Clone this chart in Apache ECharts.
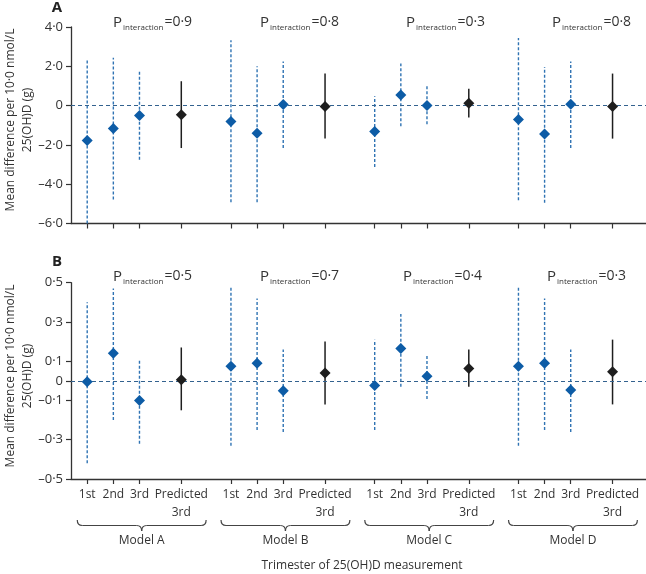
<!DOCTYPE html>
<html><head><meta charset="utf-8">
<script src="https://cdn.jsdelivr.net/npm/echarts@6/dist/echarts.min.js"></script>
<style>html,body{margin:0;padding:0;background:#fff}#c{width:646px;height:574px}</style>
</head><body><div id="c"></div>
<script>
// ---- data ----
const models = ['Model A', 'Model B', 'Model C', 'Model D'];
const trimesters = ['1st', '2nd', '3rd', 'Predicted\n3rd'];
const pInteractionA = ['0·9', '0·8', '0·3', '0·8'];
const pInteractionB = ['0·5', '0·7', '0·4', '0·3'];
// Panel A (per model: 1st, 2nd, 3rd, predicted 3rd)
const estA_ModelA = [-1.78, -1.17, -0.51, -0.46];
const estA_ModelB = [-0.81, -1.41, 0.05, -0.04];
const estA_ModelC = [-1.32, 0.54, 0.00, 0.12];
const estA_ModelD = [-0.71, -1.44, 0.07, -0.04];
const lowA_ModelA = [-6.0, -4.78, -2.75, -2.16];
const lowA_ModelB = [-4.92, -4.92, -2.16, -1.68];
const lowA_ModelC = [-3.12, -1.05, -0.95, -0.61];
const lowA_ModelD = [-4.82, -4.95, -2.16, -1.68];
const highA_ModelA = [2.39, 2.44, 1.80, 1.24];
const highA_ModelB = [3.32, 2.00, 2.25, 1.63];
const highA_ModelC = [0.47, 2.14, 1.00, 0.86];
const highA_ModelD = [3.44, 1.96, 2.25, 1.63];
// Panel B
const estB_ModelA = [-0.005, 0.14, -0.10, 0.005];
const estB_ModelB = [0.075, 0.09, -0.05, 0.04];
const estB_ModelC = [-0.024, 0.165, 0.024, 0.063];
const estB_ModelD = [0.075, 0.09, -0.047, 0.046];
const lowB_ModelA = [-0.42, -0.20, -0.32, -0.15];
const lowB_ModelB = [-0.33, -0.25, -0.26, -0.12];
const lowB_ModelC = [-0.25, -0.03, -0.093, -0.03];
const lowB_ModelD = [-0.33, -0.25, -0.26, -0.12];
const highB_ModelA = [0.40, 0.47, 0.11, 0.17];
const highB_ModelB = [0.48, 0.42, 0.16, 0.20];
const highB_ModelC = [0.21, 0.34, 0.13, 0.16];
const highB_ModelD = [0.48, 0.42, 0.16, 0.21];
const yTicksA = [-6, -4, -2, 0, 2, 4];
const yTicksB = [-0.5, -0.3, -0.1, 0, 0.1, 0.3, 0.5];

// ---- layout (not data) ----
const slotOffsets = [0, 1, 2, 3.6];
const modelStep = 5.5;
const FONT = 'Open Sans';
const BLUE = '#0d5ca6', BLUE_LINE = '#2f73b3', BLACK = '#1e1e1e', AXIS = '#333';

const estA = [estA_ModelA, estA_ModelB, estA_ModelC, estA_ModelD];
const lowA = [lowA_ModelA, lowA_ModelB, lowA_ModelC, lowA_ModelD];
const highA = [highA_ModelA, highA_ModelB, highA_ModelC, highA_ModelD];
const estB = [estB_ModelA, estB_ModelB, estB_ModelC, estB_ModelD];
const lowB = [lowB_ModelA, lowB_ModelB, lowB_ModelC, lowB_ModelD];
const highB = [highB_ModelA, highB_ModelB, highB_ModelC, highB_ModelD];

const xPos = (m, k) => m * modelStep + slotOffsets[k];
const allX = [];
models.forEach((_, m) => trimesters.forEach((_, k) => allX.push(xPos(m, k))));

function fmtNum(v, dec) {
  if (Math.abs(v) < 1e-9) return '0';
  return (v < 0 ? '\u2013' : '') + Math.abs(v).toFixed(dec).replace('.', '\u00b7');
}
function xLabel(v) {
  for (let m = 0; m < models.length; m++)
    for (let k = 0; k < trimesters.length; k++)
      if (Math.abs(xPos(m, k) - v) < 0.01) return trimesters[k];
  return '';
}

function buildSeries(est, low, high, idx) {
  const blueP = [], blackP = [], blueW = [], blackW = [];
  models.forEach((_, m) => trimesters.forEach((_, k) => {
    const x = xPos(m, k);
    if (k < 3) { blueP.push([x, est[m][k]]); blueW.push([x, low[m][k], high[m][k]]); }
    else { blackP.push([x, est[m][k]]); blackW.push([x, low[m][k], high[m][k]]); }
  }));
  const whisker = (color, dash, width) => (params, api) => {
    const p1 = api.coord([api.value(0), api.value(1)]);
    const p2 = api.coord([api.value(0), api.value(2)]);
    return { type: 'line', shape: { x1: p1[0], y1: p1[1], x2: p2[0], y2: p2[1] },
      style: { stroke: color, lineWidth: width, lineDash: dash } };
  };
  return [
    { type: 'line', xAxisIndex: idx, yAxisIndex: idx, data: [], silent: true,
      markLine: { silent: true, symbol: 'none', label: { show: false },
        lineStyle: { color: '#33628f', type: [4, 3], width: 1 }, data: [{ yAxis: 0 }] } },
    { type: 'custom', xAxisIndex: idx, yAxisIndex: idx, data: blueW, encode: { x: 0, y: [1, 2] },
      renderItem: whisker(BLUE_LINE, [3, 2], 1.4), z: 2 },
    { type: 'custom', xAxisIndex: idx, yAxisIndex: idx, data: blackW, encode: { x: 0, y: [1, 2] },
      renderItem: whisker(BLACK, null, 1.5), z: 2 },
    { type: 'scatter', xAxisIndex: idx, yAxisIndex: idx, data: blueP, symbol: 'diamond',
      symbolSize: 11, itemStyle: { color: BLUE, opacity: 1 }, z: 5 },
    { type: 'scatter', xAxisIndex: idx, yAxisIndex: idx, data: blackP, symbol: 'diamond',
      symbolSize: 11, itemStyle: { color: BLACK, opacity: 1 }, z: 5 }
  ];
}

const xAxisBase = (idx, showLabels) => ({
  type: 'value', gridIndex: idx, min: -0.62, max: 21.38,
  axisLine: { show: true, onZero: false, lineStyle: { color: AXIS, width: 1.3 } },
  axisTick: { show: true, length: 5, customValues: allX, lineStyle: { color: AXIS, width: 1.2 } },
  axisLabel: { show: showLabels, customValues: allX, formatter: xLabel, margin: 7,
    fontFamily: FONT, fontSize: 12, color: '#333', lineHeight: 18, align: 'center', verticalAlign: 'top' },
  splitLine: { show: false }
});
const yAxisBase = (idx, min, max, interval, ticks, dec) => ({
  type: 'value', gridIndex: idx, min: min, max: max, interval: interval,
  axisLine: { show: true, onZero: false, lineStyle: { color: AXIS, width: 1.3 } },
  axisTick: { show: true, length: 5, customValues: ticks, lineStyle: { color: AXIS, width: 1.2 } },
  axisLabel: { customValues: ticks, formatter: v => fmtNum(v, dec), margin: 8,
    fontFamily: FONT, fontSize: 13, color: '#333' },
  splitLine: { show: false }
});

const chart = echarts.init(document.getElementById('c'), null, { renderer: 'canvas' });

function pLabel(x, y, val) {
  return { type: 'text', x: x, y: y, style: {
    text: '{p|P}{s|interaction}{e|=' + val + '}', fontFamily: FONT,
    textVerticalAlign: 'middle', fill: '#333',
    rich: {
      p: { fontSize: 15, fontFamily: FONT, fill: '#333', lineHeight: 18, verticalAlign: 'top' },
      s: { fontSize: 8, fontFamily: FONT, fill: '#333', lineHeight: 10, padding: [9, 1, 0, 1], verticalAlign: 'top' },
      e: { fontSize: 14, fontFamily: FONT, fill: '#333', lineHeight: 18, verticalAlign: 'top' }
    } } };
}

const yName = 'Mean difference per 10\u00b70 nmol/L\n25(OH)D (g)';
const graphics = [
  { type: 'text', x: 57, y: 8, style: { text: 'A', fontFamily: FONT, fontWeight: 'bold', fontSize: 15, fill: '#222', textAlign: 'center', textVerticalAlign: 'middle' } },
  { type: 'text', x: 57, y: 262, style: { text: 'B', fontFamily: FONT, fontWeight: 'bold', fontSize: 15, fill: '#222', textAlign: 'center', textVerticalAlign: 'middle' } },
  { type: 'text', x: 19, y: 120, rotation: Math.PI / 2, style: { text: yName, fontFamily: FONT, fontSize: 12, lineHeight: 17, fill: '#333', textAlign: 'center', textVerticalAlign: 'middle' } },
  { type: 'text', x: 19, y: 376, rotation: Math.PI / 2, style: { text: yName, fontFamily: FONT, fontSize: 12, lineHeight: 17, fill: '#333', textAlign: 'center', textVerticalAlign: 'middle' } },
  { type: 'text', x: 362, y: 566, style: { text: 'Trimester of 25(OH)D measurement', fontFamily: FONT, fontSize: 12, fill: '#333', textAlign: 'center', textVerticalAlign: 'middle' } }
];
const pxA = [113, 260, 406, 552], pxB = [113, 260, 403, 547];
pInteractionA.forEach((v, m) => graphics.push(pLabel(pxA[m], 24, v)));
pInteractionB.forEach((v, m) => graphics.push(pLabel(pxB[m], 278, v)));

const option = {
  animation: false,
  grid: [
    { left: 71, top: 27, width: 575, height: 196.5 },
    { left: 71, top: 282.7, width: 575, height: 196.3 }
  ],
  xAxis: [xAxisBase(0, false), xAxisBase(1, true)],
  yAxis: [yAxisBase(0, -6, 4, 2, yTicksA, 1), yAxisBase(1, -0.5, 0.5, 0.1, yTicksB, 1)],
  series: [].concat(buildSeries(estA, lowA, highA, 0), buildSeries(estB, lowB, highB, 1)),
  graphic: graphics
};
chart.setOption(option);

// braces and model labels, positioned through the x scale
const extra = [];
const braceStyle = { fill: 'none', stroke: '#444', lineWidth: 1.2 };
models.forEach((name, m) => {
  const x1 = chart.convertToPixel({ xAxisIndex: 1 }, xPos(m, 0) - 0.38);
  const x2 = chart.convertToPixel({ xAxisIndex: 1 }, xPos(m, 3) + 0.95);
  const c = (x1 + x2) / 2;
  const yT = 520, yL = 525.5, yB = 531, r = 5;
  const q = (ax, ay, cx, cy, bx, by) => ({ type: 'bezierCurve', shape: { x1: ax, y1: ay, x2: bx, y2: by, cpx1: cx, cpy1: cy }, style: braceStyle });
  const l = (ax, ay, bx, by) => ({ type: 'line', shape: { x1: ax, y1: ay, x2: bx, y2: by }, style: braceStyle });
  extra.push(q(x1, yT, x1, yL, x1 + r, yL));
  extra.push(l(x1 + r, yL, c - r, yL));
  extra.push(q(c - r, yL, c, yL, c, yB));
  extra.push(q(c, yB, c, yL, c + r, yL));
  extra.push(l(c + r, yL, x2 - r, yL));
  extra.push(q(x2 - r, yL, x2, yL, x2, yT));
  extra.push({ type: 'text', x: c, y: 541, style: { text: name, fontFamily: FONT, fontSize: 12, fill: '#333', textAlign: 'center', textVerticalAlign: 'middle' } });
});
chart.setOption({ graphic: graphics.concat(extra) });
</script></body></html>
